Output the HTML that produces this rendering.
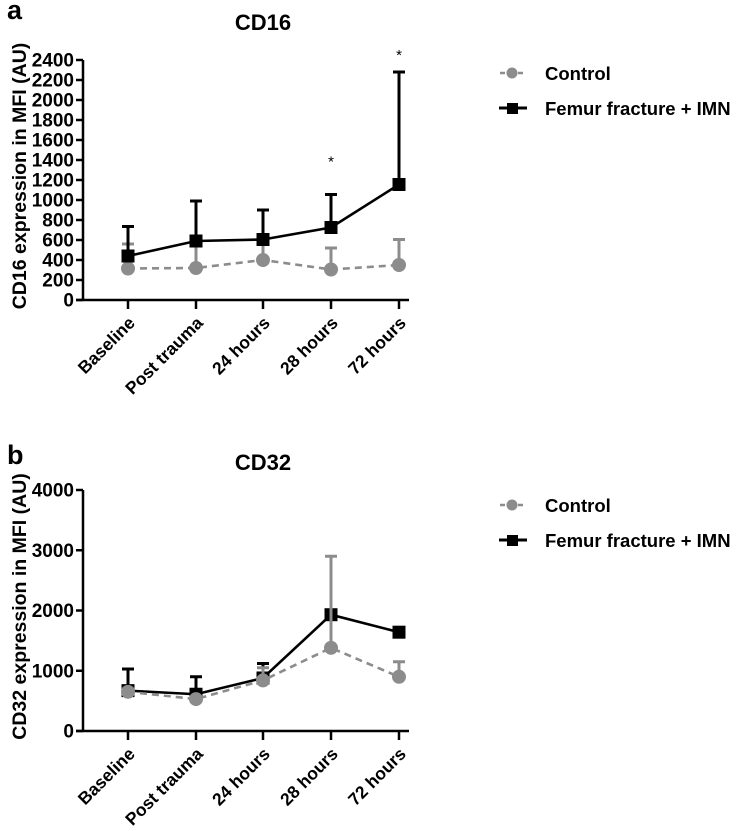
<!DOCTYPE html>
<html><head><meta charset="utf-8"><style>
body{margin:0;background:#fff;}
svg{display:block;font-family:"Liberation Sans",Arial,sans-serif;font-weight:bold;}
</style></head><body>
<svg id="fig" width="749" height="831" viewBox="0 0 749 831"></svg>
<script>
const categories=["Baseline","Post trauma","24 hours","28 hours","72 hours"];
const cd16Fracture=[440,590,605,725,1155];
const cd16FractureErr=[735,990,900,1055,2280];
const cd16Control=[315,320,400,305,350];
const cd16ControlErr=[560,570,600,520,605];
const cd16Ticks=[0,200,400,600,800,1000,1200,1400,1600,1800,2000,2200,2400];
const cd16Stars=[3,4];
const cd32Fracture=[670,610,880,1930,1640];
const cd32FractureErr=[1030,900,1120,1930,1640];
const cd32Control=[650,530,840,1380,900];
const cd32ControlErr=[700,530,1050,2900,1150];
const cd32Ticks=[0,1000,2000,3000,4000];

const NS="http://www.w3.org/2000/svg";
const svg=document.getElementById('fig');
function mk(tag,attrs,parent,text){const e=document.createElementNS(NS,tag);for(const k in attrs)e.setAttribute(k,attrs[k]);if(text!==undefined)e.textContent=text;(parent||svg).appendChild(e);return e;}

function panel(o){
  const g=mk('g',{});
  
  
  const xs=[128,196,263,331,399];
  const xPos=i=>xs[i];
  const y=v=>o.y0-(v/o.max)*(o.y0-o.yTop);
  let t=mk('text',{x:7,y:o.letterY,'font-size':27},g,o.letter);
  
  t=mk('text',{x:263,y:o.titleY,'font-size':22,'text-anchor':'middle'},g,o.title);
  
  let a=mk('line',{x1:83,y1:o.yTop,x2:83,y2:o.y0+1,stroke:'#000','stroke-width':2.5},g);
  
  a=mk('line',{x1:76,y1:o.y0,x2:409,y2:o.y0,stroke:'#000','stroke-width':2.5},g);
  
  o.ticks.forEach(v=>{
    const tk=mk('line',{x1:76,y1:y(v),x2:83,y2:y(v),stroke:'#000','stroke-width':2.5},g);
    
    const tl=mk('text',{x:74,y:y(v)+6.5,'font-size':19,'text-anchor':'end'},g,String(v));
    
  });
  categories.forEach((c,i)=>{
    const tk=mk('line',{x1:xPos(i),y1:o.y0,x2:xPos(i),y2:o.y0+9,stroke:'#000','stroke-width':2.5},g);
    
    const tl=mk('text',{x:xPos(i)+8,y:o.y0+24,'font-size':17.5,'text-anchor':'end',transform:`rotate(-45 ${xPos(i)+8} ${o.y0+24})`},g,c);
    
  });
  const yl=mk('text',{x:0,y:0,'font-size':19.5,'text-anchor':'middle',transform:`translate(26 ${(o.y0+o.yTop)/2-4}) rotate(-90)`},g,o.ylabel);
  

  function series(vals,errs,color,dash,shape,name){
    const sg=mk('g',{},g);
    
    vals.forEach((v,i)=>{
      if(errs[i]>v){
        const e=mk('path',{d:`M${xPos(i)} ${y(v)}V${y(errs[i])}M${xPos(i)-6} ${y(errs[i])}H${xPos(i)+6}`,stroke:color,'stroke-width':3,fill:'none'},sg);
        
      }
    });
    const p=mk('polyline',{points:vals.map((v,i)=>xPos(i)+','+y(v)).join(' '),fill:'none',stroke:color,'stroke-width':2.6,'stroke-dasharray':dash||'none'},sg);
    
    vals.forEach((v,i)=>{
      let m;
      if(shape==='circle')m=mk('circle',{cx:xPos(i),cy:y(v),r:7,fill:color},sg);
      else m=mk('rect',{x:xPos(i)-6.5,y:y(v)-6.5,width:13,height:13,fill:color},sg);
      
    });
  }
  if(o.controlOnTop){
    series(o.frac,o.fracErr,'#000',null,'square','fracture-series');
    series(o.ctrl,o.ctrlErr,'#8c8c8c','7 5','circle','control-series');
  } else {
    series(o.ctrl,o.ctrlErr,'#8c8c8c','7 5','circle','control-series');
    series(o.frac,o.fracErr,'#000',null,'square','fracture-series');
  }
  (o.stars||[]).forEach(i=>{
    const s=mk('text',{x:xPos(i),y:y(o.fracErr[i])-(i===4?12:28),'font-size':15,'font-weight':'normal','text-anchor':'middle'},g,'*');
    
  });
  const lg=mk('g',{},g);
  
  let l=mk('line',{x1:500,y1:o.legY,x2:526,y2:o.legY,stroke:'#8c8c8c','stroke-width':2.5,'stroke-dasharray':'5 4'},lg);
  
  l=mk('circle',{cx:512,cy:o.legY,r:5.5,fill:'#8c8c8c'},lg);
  
  l=mk('text',{x:545,y:o.legY+7,'font-size':18.5},lg,'Control');
  
  l=mk('line',{x1:499,y1:o.legY+35,x2:527,y2:o.legY+35,stroke:'#000','stroke-width':3},lg);
  
  l=mk('rect',{x:507,y:o.legY+30,width:11,height:11,fill:'#000'},lg);
  
  l=mk('text',{x:545,y:o.legY+42,'font-size':18.5},lg,'Femur fracture + IMN');
  
}
panel({name:'cd16-panel',letter:'a',letterY:19,title:'CD16',titleY:30,y0:300,yTop:60,max:2400,ticks:cd16Ticks,
  ylabel:'CD16 expression in MFI (AU)',frac:cd16Fracture,fracErr:cd16FractureErr,ctrl:cd16Control,ctrlErr:cd16ControlErr,stars:cd16Stars,legY:73,controlOnTop:false});
panel({name:'cd32-panel',letter:'b',letterY:464,title:'CD32',titleY:470,y0:731,yTop:490,max:4000,ticks:cd32Ticks,
  ylabel:'CD32 expression in  MFI (AU)',frac:cd32Fracture,fracErr:cd32FractureErr,ctrl:cd32Control,ctrlErr:cd32ControlErr,stars:[],legY:505,controlOnTop:true});
</script>
</body></html>
